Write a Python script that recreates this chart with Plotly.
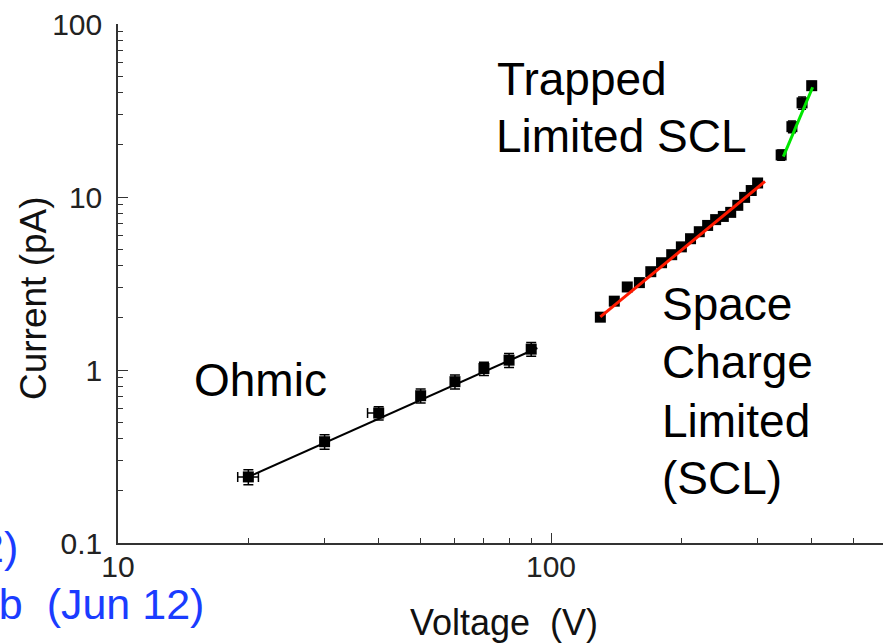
import plotly.graph_objects as go

# ---- data ----
ohmic_v = [20, 30, 40, 50, 60, 70, 80, 90]
ohmic_i = [0.241, 0.385, 0.564, 0.71, 0.856, 1.02, 1.14, 1.32]
ohmic_ierr = [0.024, 0.037, 0.05, 0.066, 0.08, 0.09, 0.105, 0.12]
ohmic_verr_plus = [1.1, 0, 0, 0, 0, 0, 0, 0]
ohmic_verr_minus = [1.1, 0, 2.3, 0, 0, 0, 0, 0]
ohmic_fit_v = [20, 93]
ohmic_fit_i = [0.241, 1.34]

scl_v = [130, 140, 150, 160, 170, 180, 190, 200, 210, 220, 230, 240, 250, 260, 270, 280, 290, 300]
scl_i = [2.02, 2.50, 3.02, 3.20, 3.70, 4.17, 4.64, 5.15, 5.74, 6.30, 6.85, 7.40, 7.72, 8.15, 8.95, 9.95, 10.9, 12.05]
scl_ierr = [0.08, 0.1, 0.12, 0.13, 0.15, 0.17, 0.19, 0.21, 0.23, 0.25, 0.28, 0.3, 0.31, 0.33, 0.36, 0.4, 0.44, 0.48]
scl_fit_v = [130, 312]
scl_fit_i = [2.03, 12.3]

tl_v = [340, 360, 380, 400]
tl_i = [17.5, 25.5, 35.0, 44.0]
tl_ierr = [1.2, 2.0, 2.8, 2.5]
tl_fit_v = [344, 402]
tl_fit_i = [17.1, 43.1]

x_ticks = [10, 100]
y_ticks = [0.1, 1, 10, 100]
y_ticklabels = ["0.1", "1", "10", "100"]

FONT = "Arial, Liberation Sans, sans-serif"
BLUE = "#1a3cff"

fig = go.Figure()

marker = dict(symbol="square", size=11, color="black")

fig.add_trace(go.Scatter(
    x=ohmic_v, y=ohmic_i, mode="markers", marker=marker,
    error_y=dict(type="data", array=ohmic_ierr, color="black", thickness=1.5, width=5),
    error_x=dict(type="data", array=ohmic_verr_plus, arrayminus=ohmic_verr_minus,
                 color="black", thickness=1.5, width=5),
    showlegend=False))
fig.add_trace(go.Scatter(x=ohmic_fit_v, y=ohmic_fit_i, mode="lines",
                         line=dict(color="black", width=2), showlegend=False))

fig.add_trace(go.Scatter(
    x=scl_v, y=scl_i, mode="markers", marker=marker,
    error_y=dict(type="data", array=scl_ierr, color="black", thickness=1.5, width=4),
    showlegend=False))
fig.add_trace(go.Scatter(x=scl_fit_v, y=scl_fit_i, mode="lines",
                         line=dict(color="#ff1a00", width=3), showlegend=False))

fig.add_trace(go.Scatter(
    x=tl_v, y=tl_i, mode="markers", marker=marker,
    error_y=dict(type="data", array=tl_ierr, color="black", thickness=1.5, width=4),
    showlegend=False))
fig.add_trace(go.Scatter(x=tl_fit_v, y=tl_fit_i, mode="lines",
                         line=dict(color="#00e600", width=3), showlegend=False))

axis_common = dict(
    type="log", showgrid=False, zeroline=False,
    showline=True, linecolor="#333", linewidth=1.5,
    ticks="inside", ticklen=10, tickwidth=1.2, tickcolor="#333",
    tickfont=dict(family=FONT, size=30, color="#222"),
    minor=dict(ticks="inside", ticklen=5, tickwidth=1.2, tickcolor="#333", dtick="D1"),
)

fig.update_xaxes(range=[1, 2.7667], tickvals=x_ticks, ticktext=[str(v) for v in x_ticks],
                 ticklabelstandoff=-4, **axis_common)
fig.update_yaxes(range=[-1, 2], tickvals=y_ticks, ticktext=y_ticklabels,
                 ticklabelstandoff=8, **axis_common)


def px2paper(px, py):
    return (px - 118) / 765.0, (543 - py) / 519.0


annotations = []


def add_text(text, px, py, size, xanchor="left", color="black", angle=0):
    x, y = px2paper(px, py)
    annotations.append(dict(text=text, x=x, y=y, xref="paper", yref="paper",
                            xanchor=xanchor, yanchor="middle", showarrow=False,
                            textangle=angle, borderpad=0,
                            font=dict(family=FONT, size=size, color=color)))


add_text("Ohmic", 193, 380, 46)
add_text("Trapped", 496, 79, 46)
add_text("Limited SCL", 495, 136, 46)
add_text("Space", 661, 304, 46)
add_text("Charge", 661, 362, 46)
add_text("Limited", 661, 421, 46)
add_text("(SCL)", 661, 478, 46)
add_text("Voltage\u00a0 (V)", 504, 622, 36, xanchor="center", color="#111")
add_text("Current (pA)", 34, 298, 37, xanchor="center", color="#111", angle=-90)
add_text("Lab (May 12)", 19, 547, 43, xanchor="right", color=BLUE)
add_text("Lab\u00a0 (Jun 12)", 205, 604, 43, xanchor="right", color=BLUE)

fig.update_layout(
    width=883, height=643,
    margin=dict(l=118, r=0, t=24, b=100),
    paper_bgcolor="white", plot_bgcolor="white",
    annotations=annotations,
)

fig.write_html("out.html")
